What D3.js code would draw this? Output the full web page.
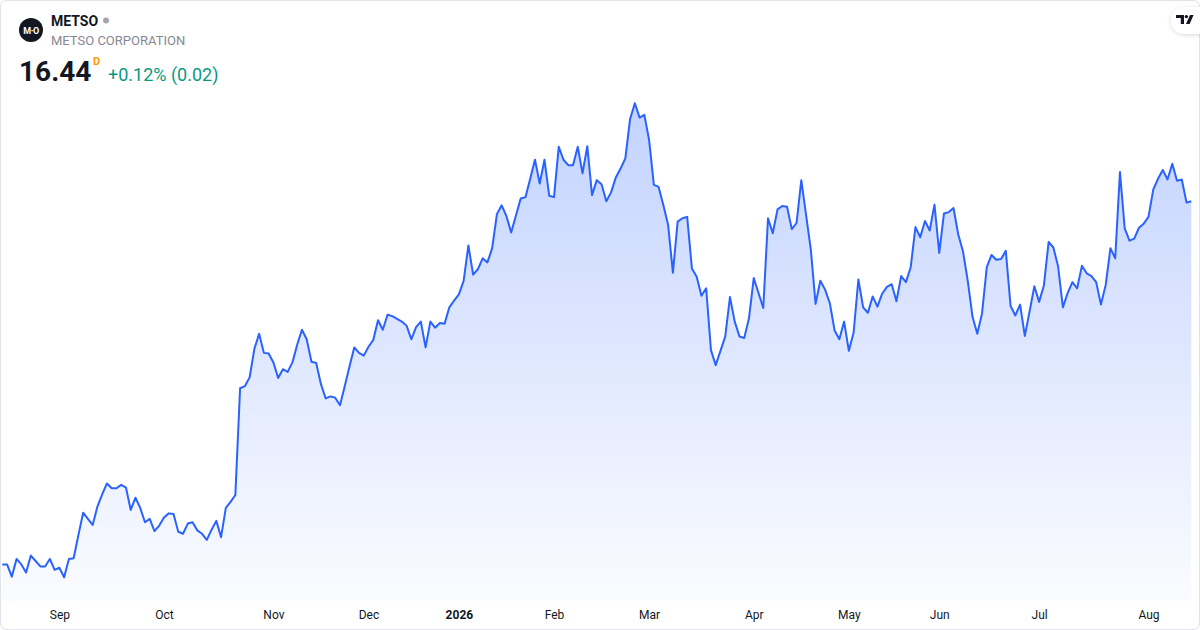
<!DOCTYPE html>
<html>
<head>
<meta charset="utf-8">
<script src="https://cdn.jsdelivr.net/npm/d3@7/dist/d3.min.js"></script>
<style>
  body { margin: 0; background: #fff; }
  #chart { width: 1200px; height: 630px; }
  text { font-family: Roboto, "Noto Sans", sans-serif; }
</style>
</head>
<body>
<div id="chart"></div>
<script>
// daily closes, first trading day 2025-08-14
const closes = [
  11.10, 11.10, 10.92, 11.18, 11.10, 10.98, 11.23, 11.15, 11.07, 11.07,
  11.18, 11.02, 11.05, 10.91, 11.18, 11.19, 11.53, 11.86, 11.77, 11.68,
  11.95, 12.13, 12.29, 12.22, 12.22, 12.27, 12.23, 11.90, 12.08, 11.93,
  11.72, 11.77, 11.59, 11.67, 11.79, 11.85, 11.84, 11.58, 11.55, 11.70,
  11.72, 11.60, 11.55, 11.46, 11.61, 11.74, 11.50, 11.93, 12.02, 12.12,
  13.69, 13.72, 13.85, 14.27, 14.49, 14.21, 14.20, 14.07, 13.84, 13.97,
  13.93, 14.07, 14.33, 14.55, 14.41, 14.08, 14.06, 13.75, 13.54, 13.57,
  13.55, 13.44, 13.72, 14.01, 14.29, 14.21, 14.17, 14.30, 14.40, 14.69,
  14.55, 14.77, 14.75, 14.71, 14.67, 14.61, 14.41, 14.59, 14.67, 14.29,
  14.67, 14.58, 14.65, 14.64, 14.88, 14.98, 15.07, 15.27, 15.79, 15.36,
  15.44, 15.60, 15.54, 15.75, 16.25, 16.38, 16.22, 15.98, 16.23, 16.48,
  16.50, 16.77, 17.05, 16.70, 17.05, 16.52, 16.50, 17.24, 17.05, 16.97,
  16.97, 17.24, 16.85, 17.25, 16.53, 16.75, 16.69, 16.44, 16.57, 16.79,
  16.92, 17.07, 17.65, 17.88, 17.67, 17.71, 17.34, 16.68, 16.65, 16.38,
  16.09, 15.39, 16.14, 16.19, 16.21, 15.45, 15.33, 15.05, 15.16, 14.25,
  14.03, 14.24, 14.45, 15.03, 14.67, 14.45, 14.43, 14.72, 15.31, 15.09,
  14.87, 16.19, 15.97, 16.32, 16.37, 16.36, 16.03, 16.12, 16.75, 16.24,
  15.73, 14.93, 15.27, 15.14, 14.94, 14.54, 14.41, 14.67, 14.24, 14.51,
  15.29, 14.88, 14.80, 15.04, 14.89, 15.08, 15.18, 15.22, 14.97, 15.34,
  15.25, 15.47, 16.06, 15.91, 16.15, 16.01, 16.39, 15.68, 16.26, 16.28,
  16.34, 15.95, 15.70, 15.27, 14.74, 14.49, 14.79, 15.47, 15.65, 15.58,
  15.59, 15.71, 14.90, 14.76, 14.92, 14.46, 14.82, 15.19, 14.96, 15.20,
  15.84, 15.76, 15.48, 14.88, 15.09, 15.25, 15.16, 15.49, 15.38, 15.34,
  15.25, 14.92, 15.21, 15.75, 15.60, 16.87, 16.04, 15.86, 15.89, 16.05,
  16.11, 16.21, 16.61, 16.77, 16.90, 16.76, 16.99, 16.74, 16.76, 16.42,
  16.44
];

// Helsinki exchange closures inside the range
const holidays = [
  "2025-12-24", "2025-12-25", "2025-12-26", "2025-12-31",
  "2026-01-01", "2026-01-06", "2026-04-03", "2026-04-06",
  "2026-05-01", "2026-05-14", "2026-06-19"
];
const firstDay = "2025-08-14";

const symbol = "METSO";
const company = "METSO CORPORATION";
const lastPrice = "16.44";
const change = "+0.12% (0.02)";

const W = 1200, H = 630;
const plot = { left: 2.3, right: 1191.3, top: 103.3, bottom: 577.3, base: 601 };

// build trading days
const parse = d3.timeParse("%Y-%m-%d");
const fmt = d3.timeFormat("%Y-%m-%d");
const dates = [];
let day = parse(firstDay);
while (dates.length < closes.length) {
  const wd = day.getDay();
  if (wd !== 0 && wd !== 6 && !holidays.includes(fmt(day))) dates.push(new Date(day));
  day = d3.timeDay.offset(day, 1);
}
const data = closes.map((c, i) => ({ i: i, date: dates[i], close: c }));

const svg = d3.select("#chart").append("svg")
  .attr("width", W).attr("height", H);

const defs = svg.append("defs");

// scales
const x = d3.scaleLinear().domain([0, data.length - 1]).range([plot.left, plot.right]);
const y = d3.scaleLinear().domain(d3.extent(closes)).range([plot.bottom, plot.top]);

// widget frame
svg.append("rect")
  .attr("x", 0.5).attr("y", 0.5)
  .attr("width", W - 1).attr("height", H - 1)
  .attr("rx", 6)
  .attr("fill", "#fff")
  .attr("stroke", "#e0e3eb");

const grad = defs.append("linearGradient")
  .attr("id", "areaFill")
  .attr("gradientUnits", "userSpaceOnUse")
  .attr("x1", 0).attr("x2", 0)
  .attr("y1", plot.top).attr("y2", plot.base);
grad.append("stop").attr("offset", 0).attr("stop-color", "#2962ff").attr("stop-opacity", 0.28);
grad.append("stop").attr("offset", 1).attr("stop-color", "#2962ff").attr("stop-opacity", 0.02);

const area = d3.area()
  .x(d => x(d.i))
  .y0(plot.base)
  .y1(d => y(d.close));

const line = d3.line()
  .x(d => x(d.i))
  .y(d => y(d.close));

svg.append("path")
  .datum(data)
  .attr("d", area)
  .attr("fill", "url(#areaFill)");

svg.append("path")
  .datum(data)
  .attr("d", line)
  .attr("fill", "none")
  .attr("stroke", "#2962ff")
  .attr("stroke-width", 2)
  .attr("stroke-linejoin", "round");

// month ticks: first trading day of each month
const monthStarts = data.filter((d, i) => i > 0 && d.date.getMonth() !== data[i - 1].date.getMonth());
const xAxis = d3.axisBottom(x)
  .tickValues(monthStarts.map(d => d.i))
  .tickSize(0)
  .tickFormat(i => {
    const dt = data[i].date;
    return dt.getMonth() === 0 ? d3.timeFormat("%Y")(dt) : d3.timeFormat("%b")(dt);
  });

const gx = svg.append("g")
  .attr("transform", `translate(0, 607)`)
  .call(xAxis);
gx.select(".domain").remove();
gx.selectAll("text")
  .attr("fill", "#131722")
  .attr("font-size", 12)
  .attr("font-family", "Roboto, sans-serif")
  .attr("font-weight", i => data[i].date.getMonth() === 0 ? "bold" : "normal");

// header
const head = svg.append("g");
head.append("circle").attr("cx", 31).attr("cy", 30).attr("r", 12).attr("fill", "#131722");
head.append("text").attr("x", 31).attr("y", 33.5)
  .attr("text-anchor", "middle")
  .attr("font-size", 9).attr("font-weight", "bold").attr("fill", "#fff")
  .attr("letter-spacing", "-0.5")
  .text("M·O");

head.append("text").attr("x", 51).attr("y", 26)
  .attr("font-size", 14).attr("font-weight", "bold").attr("fill", "#131722")
  .text(symbol);
head.append("circle").attr("cx", 106).attr("cy", 20.5).attr("r", 3).attr("fill", "#a3a6af");

head.append("text").attr("x", 51).attr("y", 45)
  .attr("font-size", 13).attr("fill", "#868993")
  .text(company);

head.append("text").attr("x", 19).attr("y", 81)
  .attr("font-size", 28).attr("font-weight", "bold").attr("fill", "#131722")
  .text(lastPrice);
head.append("text").attr("x", 93).attr("y", 65)
  .attr("font-size", 11).attr("font-weight", "bold").attr("fill", "#ff9800")
  .text("D");
head.append("text").attr("x", 108).attr("y", 81)
  .attr("font-size", 18).attr("fill", "#089981")
  .text(change);

// TradingView badge top right
const filt = defs.append("filter").attr("id", "shadow")
  .attr("x", "-50%").attr("y", "-50%").attr("width", "200%").attr("height", "200%");
filt.append("feDropShadow").attr("dx", 0).attr("dy", 1).attr("stdDeviation", 2)
  .attr("flood-color", "#000").attr("flood-opacity", 0.15);

const badge = svg.append("g");
badge.append("rect").attr("x", 1171).attr("y", 7).attr("width", 40).attr("height", 27)
  .attr("rx", 13).attr("fill", "#fff").attr("filter", "url(#shadow)");
badge.append("path")
  .attr("d", "M1176 15 h8 v9 h-3.2 v-6 h-4.8 z")
  .attr("fill", "#131722");
badge.append("circle").attr("cx", 1186.4).attr("cy", 16.6).attr("r", 1.7).attr("fill", "#131722");
badge.append("path")
  .attr("d", "M1190 15 h3.6 l-4 9 h-3.6 z")
  .attr("fill", "#131722");
</script>
</body>
</html>
